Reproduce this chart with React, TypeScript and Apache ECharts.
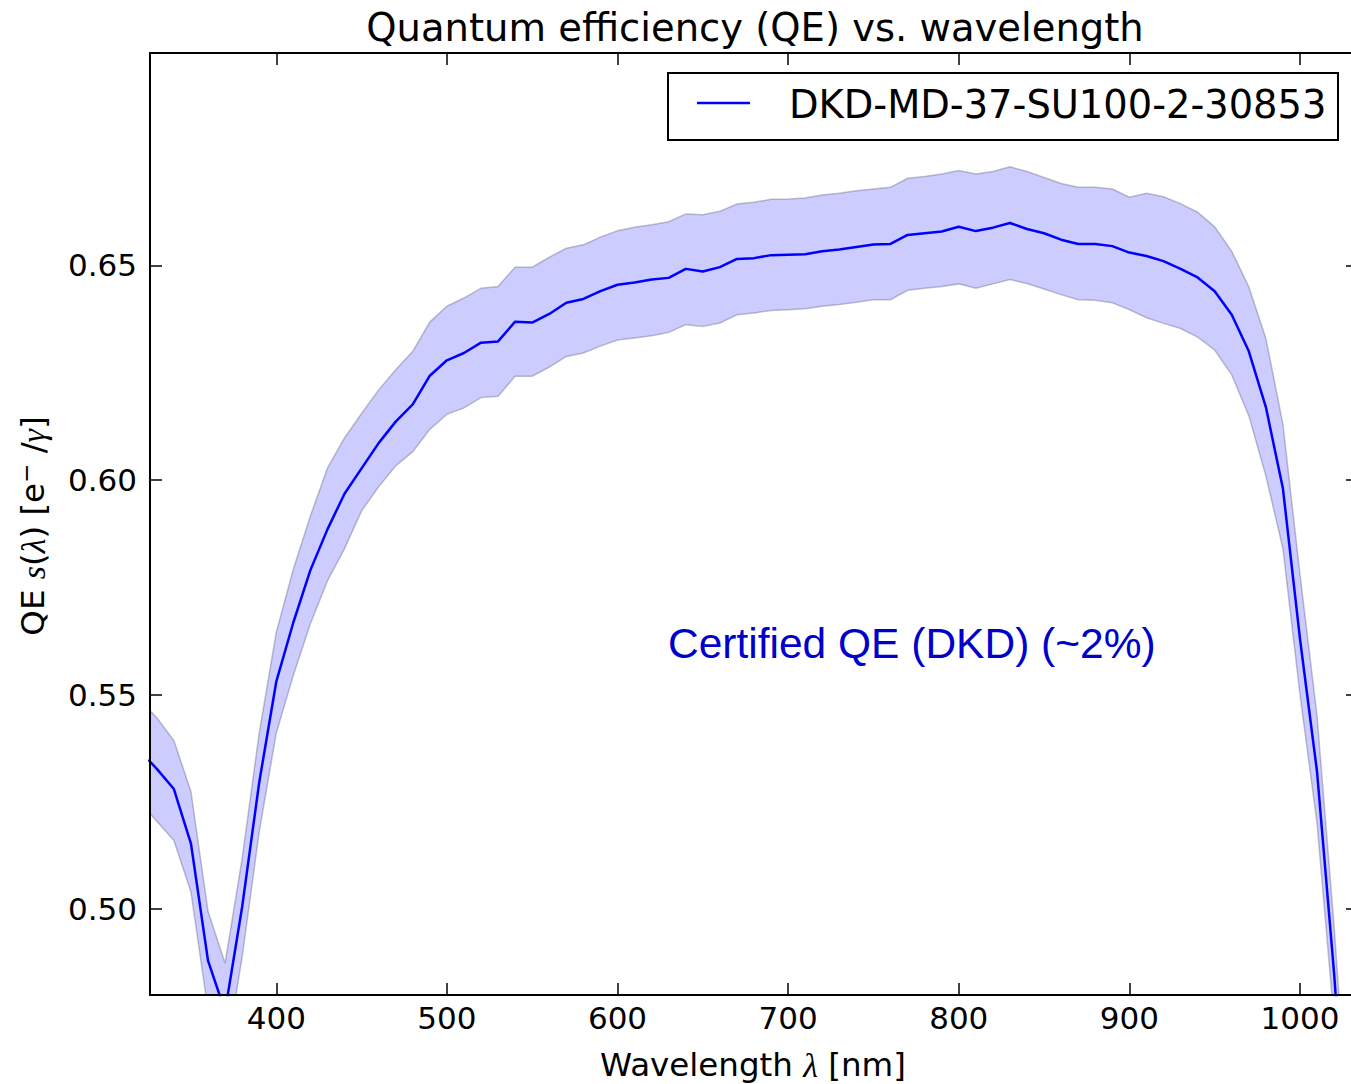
import React, { useEffect, useRef } from "react";
import * as echarts from "echarts";

// ---------------- data ----------------
const WAVELENGTH = [
  325, 330, 340, 350, 360, 370, 380, 390, 400, 410, 420, 430, 440, 450, 460, 470, 480, 490,
  500, 510, 520, 530, 540, 550, 560, 570, 580, 590, 600, 610, 620, 630, 640, 650, 660, 670,
  680, 690, 700, 710, 720, 730, 740, 750, 760, 770, 780, 790, 800, 810, 820, 830, 840, 850,
  860, 870, 880, 890, 900, 910, 920, 930, 940, 950, 960, 970, 980, 990, 1000, 1010, 1020, 1030,
];
const QE_MEAN = [
  0.5348, 0.5327, 0.528, 0.5153, 0.488, 0.4762, 0.5005, 0.5295, 0.553, 0.5668, 0.579, 0.5885,
  0.5968, 0.6027, 0.6086, 0.6136, 0.6176, 0.6243, 0.6279, 0.6296, 0.632, 0.6323, 0.6369, 0.6367,
  0.6387, 0.6413, 0.6422, 0.644, 0.6455, 0.646, 0.6467, 0.6471, 0.6492, 0.6486, 0.6496, 0.6515,
  0.6517, 0.6524, 0.6525, 0.6526, 0.6533, 0.6537, 0.6543, 0.6549, 0.655, 0.6571, 0.6575, 0.6579,
  0.659, 0.658, 0.6588, 0.6599, 0.6585, 0.6575, 0.656, 0.655, 0.655, 0.6545, 0.653, 0.6522,
  0.651, 0.6492, 0.6472, 0.644, 0.6385, 0.63, 0.617, 0.598, 0.563, 0.532, 0.485, 0.43,
];
const QE_UPPER = [
  0.5467, 0.5446, 0.5393, 0.5274, 0.4995, 0.4874, 0.5118, 0.541, 0.5645, 0.5792, 0.5916, 0.6028,
  0.6098, 0.6155, 0.621, 0.6257, 0.63, 0.6368, 0.6405, 0.6424, 0.6447, 0.6451, 0.6496, 0.6496,
  0.6519, 0.654, 0.6548, 0.6566, 0.6581, 0.6589, 0.6595, 0.6602, 0.662, 0.6618, 0.6626, 0.6643,
  0.6647, 0.6654, 0.6655, 0.6657, 0.6664, 0.6668, 0.6674, 0.6678, 0.6682, 0.6703, 0.6707, 0.6713,
  0.6721, 0.6713, 0.6719, 0.673, 0.6719, 0.6705, 0.6691, 0.6682, 0.6682, 0.6678, 0.6659, 0.6668,
  0.666, 0.6644, 0.6624, 0.659, 0.6533, 0.645, 0.633, 0.613, 0.578, 0.545, 0.496, 0.44,
];
const QE_LOWER = [
  0.5227, 0.5205, 0.516, 0.504, 0.4765, 0.4646, 0.4888, 0.518, 0.541, 0.5545, 0.5665, 0.5765,
  0.584, 0.5928, 0.5984, 0.6033, 0.6066, 0.6118, 0.6153, 0.6168, 0.6192, 0.6195, 0.6242, 0.6242,
  0.6263, 0.6288, 0.6296, 0.6312, 0.6326, 0.6331, 0.6336, 0.6344, 0.6362, 0.6358, 0.6366, 0.6385,
  0.6389, 0.6395, 0.6397, 0.6399, 0.6405, 0.6409, 0.6414, 0.642, 0.642, 0.6442, 0.6447, 0.6451,
  0.6457, 0.6447, 0.6457, 0.6467, 0.6458, 0.6445, 0.6432, 0.642, 0.6419, 0.6413, 0.6397, 0.6378,
  0.6365, 0.6353, 0.6333, 0.6303, 0.6245, 0.615, 0.601, 0.584, 0.55, 0.52, 0.474, 0.42,
];
const X_TICKS = [400, 500, 600, 700, 800, 900, 1000];
const Y_TICKS = [0.5, 0.55, 0.6, 0.65];
const SERIES_NAME = "DKD-MD-37-SU100-2-30853";
const TITLE = "Quantum efficiency (QE) vs. wavelength";
const NOTE = "Certified QE (DKD) (~2%)";

const FONT = "'DejaVu Sans', Verdana, sans-serif";
const MATH = "'Liberation Serif', 'DejaVu Serif', serif";

export default function App() {
  const ref = useRef<HTMLDivElement>(null);

  useEffect(() => {
    if (!ref.current) return;
    const chart = echarts.init(ref.current, undefined, { renderer: "svg" });

    const tickStyle = { show: true, inside: true, length: 12, lineStyle: { color: "#000", width: 1.5 } };
    const lineStyle = { show: true, onZero: false, lineStyle: { color: "#000", width: 2 } };
    const xRange = { min: 326, max: 1034 };
    const yRange = { min: 0.48, max: 0.6995 };

    const bandData = WAVELENGTH.map((x, i) => [x, QE_LOWER[i], QE_UPPER[i]]);
    const meanData = WAVELENGTH.map((x, i) => [x, QE_MEAN[i]]);

    chart.setOption({
      animation: false,
      backgroundColor: "#fff",
      grid: { left: 150, top: 53, width: 1208, height: 942, containLabel: false },
      xAxis: [
        {
          type: "value",
          position: "bottom",
          ...xRange,
          z: 10,
          axisLine: lineStyle,
          axisTick: { ...tickStyle, customValues: X_TICKS },
          axisLabel: {
            customValues: X_TICKS,
            margin: 7,
            fontSize: 31,
            lineHeight: 31,
            fontFamily: FONT,
            color: "#000",
            formatter: (v: number) => String(v),
          },
          splitLine: { show: false },
        },
        {
          type: "value",
          position: "top",
          ...xRange,
          z: 10,
          axisLine: lineStyle,
          axisTick: { ...tickStyle, customValues: X_TICKS },
          axisLabel: { show: false },
          splitLine: { show: false },
        },
      ],
      yAxis: [
        {
          type: "value",
          position: "left",
          ...yRange,
          z: 10,
          axisLine: lineStyle,
          axisTick: { ...tickStyle, customValues: Y_TICKS },
          axisLabel: {
            customValues: Y_TICKS,
            margin: 13,
            fontSize: 31,
            fontFamily: FONT,
            color: "#000",
            formatter: (v: number) => v.toFixed(2),
          },
          splitLine: { show: false },
        },
        {
          type: "value",
          position: "right",
          ...yRange,
          z: 10,
          axisLine: lineStyle,
          axisTick: { ...tickStyle, customValues: Y_TICKS },
          axisLabel: { show: false },
          splitLine: { show: false },
        },
      ],
      series: [
        {
          type: "custom",
          name: "band",
          data: bandData,
          encode: { x: 0, y: [1, 2] },
          clip: true,
          silent: true,
          z: 1,
          renderItem: (params: any, api: any) => {
            if (params.dataIndex !== 0) return null;
            const top = bandData.map((d) => api.coord([d[0], d[2]]));
            const bottom = bandData
              .slice()
              .reverse()
              .map((d) => api.coord([d[0], d[1]]));
            const cs = params.coordSys;
            return {
              type: "group",
              children: [
                {
                  type: "polygon",
                  shape: { points: top.concat(bottom) },
                  style: {
                    fill: "rgba(0,0,255,0.2)",
                    stroke: "rgba(60,60,90,0.3)",
                    lineWidth: 1.5,
                  },
                },
              ],
              clipPath: {
                type: "rect",
                shape: { x: cs.x, y: cs.y, width: cs.width, height: cs.height },
              },
            };
          },
        },
        {
          type: "line",
          name: SERIES_NAME,
          data: meanData,
          symbol: "none",
          silent: true,
          lineStyle: { color: "#0000ff", width: 2.5 },
          z: 3,
        },
      ],
      graphic: [
        {
          type: "text",
          x: 755,
          y: 27,
          style: {
            text: TITLE,
            align: "center",
            verticalAlign: "middle",
            fontSize: 38.5,
            fontFamily: FONT,
            fill: "#000",
          },
        },
        {
          type: "rect",
          shape: { x: 668, y: 73, width: 670, height: 67 },
          style: { fill: "#fff", stroke: "#000", lineWidth: 2 },
          z: 10,
        },
        {
          type: "line",
          shape: { x1: 697, y1: 103, x2: 750, y2: 103 },
          style: { stroke: "#0000ff", lineWidth: 2.5 },
          z: 11,
        },
        {
          type: "text",
          x: 789,
          y: 104,
          z: 11,
          style: {
            text: SERIES_NAME,
            align: "left",
            verticalAlign: "middle",
            fontSize: 38.4,
            fontFamily: FONT,
            fill: "#000",
          },
        },
        {
          type: "text",
          x: 668,
          y: 643,
          z: 11,
          style: {
            text: NOTE,
            align: "left",
            verticalAlign: "middle",
            fontSize: 42.5,
            fontFamily: "'Liberation Sans', Arial, sans-serif",
            fill: "#0000cc",
          },
        },
        {
          type: "text",
          x: 753,
          y: 1065,
          style: {
            text: "{n|Wavelength }{i|λ}{n| [nm]}",
            align: "center",
            verticalAlign: "middle",
            rich: {
              n: { fontSize: 32.5, fontFamily: FONT, fill: "#000" },
              i: { fontSize: 34, fontFamily: MATH, fontStyle: "italic", fill: "#000" },
            },
          },
        },
        {
          type: "text",
          x: 33,
          y: 526,
          rotation: Math.PI / 2,
          style: {
            text: "{n|QE }{i|s}{n|(}{i|λ}{n|) [e}{s|−}{n| /}{i|γ}{n|]}",
            align: "center",
            verticalAlign: "middle",
            rich: {
              n: { fontSize: 32.5, fontFamily: FONT, fill: "#000" },
              i: { fontSize: 34, fontFamily: MATH, fontStyle: "italic", fill: "#000" },
              s: { fontSize: 23, fontFamily: FONT, fill: "#000", padding: [0, 0, 14, 0] },
            },
          },
        },
      ],
    });

    return () => chart.dispose();
  }, []);

  return (
    <div
      style={{
        position: "absolute",
        left: 0,
        top: 0,
        width: 1351,
        height: 1084,
        overflow: "hidden",
        background: "#fff",
      }}
    >
      <div ref={ref} style={{ width: 1372, height: 1084 }} />
    </div>
  );
}
